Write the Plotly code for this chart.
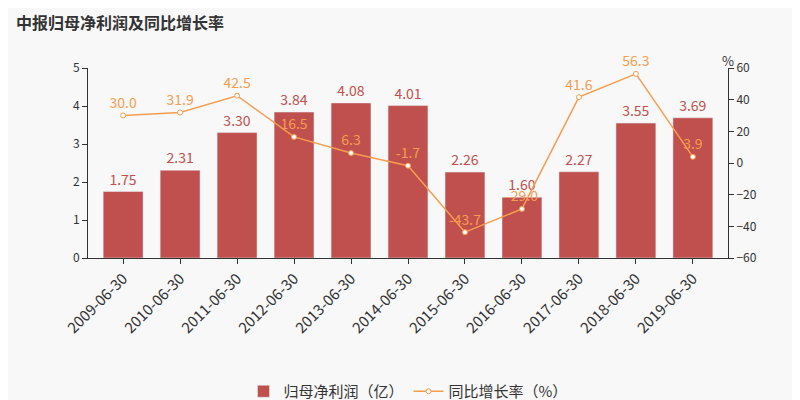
import plotly.graph_objects as go

dates = ["2009-06-30","2010-06-30","2011-06-30","2012-06-30","2013-06-30","2014-06-30",
         "2015-06-30","2016-06-30","2017-06-30","2018-06-30","2019-06-30"]
profit = [1.75, 2.31, 3.30, 3.84, 4.08, 4.01, 2.26, 1.60, 2.27, 3.55, 3.69]
growth = [30.0, 31.9, 42.5, 16.5, 6.3, -1.7, -43.7, -29.0, 41.6, 56.3, 3.9]

bar_c = "#c0504d"
line_c = "#f79d4f"
font = "Noto Sans CJK SC"

fig = go.Figure()
fig.add_trace(go.Bar(x=dates, y=profit, name="归母净利润（亿）", marker_color=bar_c,
                     text=[f"{v:.2f}" for v in profit], textposition="outside",
                     textfont=dict(color=bar_c, size=14), cliponaxis=False))
fig.add_trace(go.Scatter(x=dates, y=growth, name="同比增长率（%）", yaxis="y2",
                         mode="lines+markers+text", line=dict(color=line_c, width=1.5),
                         marker=dict(size=5, color="white", line=dict(color=line_c, width=1)),
                         text=[f"{v:.1f}" for v in growth], textposition="top center",
                         textfont=dict(color=line_c, size=14), cliponaxis=False))
fig.update_layout(
    width=800, height=400, paper_bgcolor="#f8f8f8", plot_bgcolor="#f8f8f8",
    font=dict(family=font, color="#333"),
    margin=dict(l=80, r=80, t=60, b=150),
    title=dict(text="<b>中报归母净利润及同比增长率</b>", x=0.01, y=0.975, xanchor="left", yanchor="top",
               font=dict(size=16, color="#333")),
    xaxis=dict(type="category", tickangle=-45, tickfont=dict(size=15, color="#333"), showline=True,
               linecolor="#333", ticks="outside", ticklen=5, tickcolor="#333"),
    yaxis=dict(range=[0, 5], dtick=1, showgrid=False, showline=True, linecolor="#333",
               ticks="outside", tickcolor="#333", tickfont=dict(size=12), zeroline=False),
    yaxis2=dict(range=[-60, 60], dtick=20, overlaying="y", side="right", showgrid=False,
                showline=True, linecolor="#333", ticks="outside", tickcolor="#333",
                tickfont=dict(size=12), zeroline=False),
    legend=dict(orientation="h", x=0.5, xanchor="center", y=0.0, yref="container", yanchor="bottom",
                font=dict(size=15)),
    showlegend=True, bargap=0.3,
)
fig.add_annotation(text="%", xref="paper", yref="paper", x=1.0, y=1.1, showarrow=False,
                   xanchor="center", font=dict(size=13, color="#333"))
fig.write_html("out.html")
